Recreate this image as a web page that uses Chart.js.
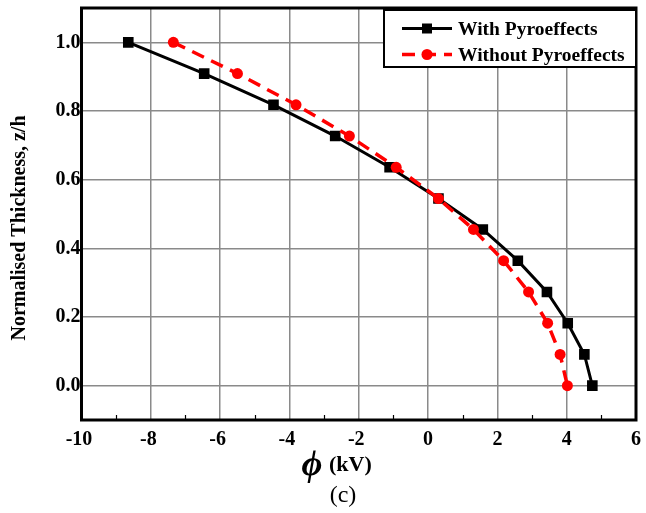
<!DOCTYPE html>
<html>
<head>
<meta charset="utf-8">
<script src="https://cdn.jsdelivr.net/npm/chart.js@4/dist/chart.umd.min.js"></script>
<style>
  html, body { margin: 0; padding: 0; background: #ffffff; }
  #wrap { width: 646px; height: 513px; position: relative; }
</style>
</head>
<body>
<div id="wrap"><canvas id="c" width="646" height="513"></canvas></div>
<script>
// ---- data ----
const zLevels = [1.0, 0.909, 0.818, 0.727, 0.636, 0.545, 0.455, 0.364, 0.273, 0.182, 0.091, 0.0];
const phiWith = [-8.65, -6.46, -4.46, -2.68, -1.11, 0.30, 1.58, 2.59, 3.43, 4.03, 4.51, 4.74];
const phiWithout = [-7.35, -5.50, -3.81, -2.27, -0.92, 0.30, 1.31, 2.18, 2.90, 3.45, 3.81, 4.02];
const seriesNames = ['With Pyroeffects', 'Without Pyroeffects'];
const xTickValues = [-10, -8, -6, -4, -2, 0, 2, 4, 6];
const xMinorTicks = [-9, -7, -5, -3, -1, 1, 3, 5];
const yTickValues = [0.0, 0.2, 0.4, 0.6, 0.8, 1.0];
const yAxisTitle = 'Normalised Thickness, z/h';
const xAxisSymbol = '\u03D5';
const xAxisUnit = '(kV)';
const caption = '(c)';

const SERIF = '"Liberation Serif", "Times New Roman", "DejaVu Serif", serif';

const toPoints = (xs, ys) => xs.map((x, i) => ({ x: x, y: ys[i] }));

const decorPlugin = {
  id: 'decor',
  beforeDatasetsDraw(chart) {
    const ctx = chart.ctx;
    const xs = chart.scales.x;
    const a = chart.chartArea;
    ctx.save();
    ctx.strokeStyle = '#000';
    ctx.lineWidth = 1.2;
    xMinorTicks.forEach(v => {
      const px = Math.round(xs.getPixelForValue(v)) + 0.5;
      ctx.beginPath();
      ctx.moveTo(px, a.bottom);
      ctx.lineTo(px, a.bottom - 5);
      ctx.stroke();
    });
    ctx.restore();
  },
  afterDraw(chart) {
    const ctx = chart.ctx;
    const a = chart.chartArea;
    ctx.save();
    // frame
    ctx.strokeStyle = '#000';
    ctx.lineWidth = 3;
    ctx.strokeRect(a.left, a.top, a.right - a.left, a.bottom - a.top);

    // legend box
    const ds = chart.data.datasets;
    const bx = 384, by = 10, bw = a.right - 384, bh = 57;
    ctx.fillStyle = '#fff';
    ctx.fillRect(bx, by, bw, bh);
    ctx.lineWidth = 2;
    ctx.strokeStyle = '#000';
    ctx.strokeRect(bx, by, bw, bh);
    const rows = [28.5, 54.5];
    ds.forEach((d, i) => {
      const y = rows[i];
      ctx.save();
      ctx.strokeStyle = d.borderColor;
      ctx.lineWidth = d.borderWidth;
      ctx.setLineDash(d.borderDash || []);
      ctx.beginPath();
      ctx.moveTo(402, y);
      ctx.lineTo(452, y);
      ctx.stroke();
      ctx.setLineDash([]);
      ctx.fillStyle = d.pointBackgroundColor;
      if (d.pointStyle === 'rect') {
        ctx.fillRect(427 - 5, y - 5, 10, 10);
      } else {
        ctx.beginPath();
        ctx.arc(427, y, 5.5, 0, Math.PI * 2);
        ctx.fill();
      }
      ctx.restore();
      ctx.fillStyle = '#000';
      ctx.font = 'bold 19.5px ' + SERIF;
      ctx.textAlign = 'left';
      ctx.textBaseline = 'middle';
      ctx.fillText(seriesNames[i], 458, y + 1);
    });

    // y axis title
    ctx.save();
    ctx.translate(20, 228);
    ctx.rotate(-Math.PI / 2);
    ctx.fillStyle = '#000';
    ctx.font = 'bold 20px ' + SERIF;
    ctx.textAlign = 'center';
    ctx.textBaseline = 'middle';
    ctx.fillText(yAxisTitle, 0, 0);
    ctx.restore();

    // x axis title
    ctx.fillStyle = '#000';
    ctx.textBaseline = 'middle';
    ctx.textAlign = 'center';
    ctx.font = 'bold italic 36px ' + SERIF;
    ctx.fillText(xAxisSymbol, 312, 466);
    ctx.textAlign = 'left';
    ctx.font = 'bold 22px ' + SERIF;
    ctx.fillText(xAxisUnit, 329, 465);

    // caption
    ctx.textAlign = 'center';
    ctx.font = '24px ' + SERIF;
    ctx.fillText(caption, 343, 496);
    ctx.restore();
  }
};

new Chart(document.getElementById('c'), {
  type: 'scatter',
  data: {
    datasets: [
      {
        label: seriesNames[0],
        data: toPoints(phiWith, zLevels),
        showLine: true,
        borderColor: '#000000',
        backgroundColor: '#000000',
        pointBackgroundColor: '#000000',
        pointBorderColor: '#000000',
        borderWidth: 3,
        pointStyle: 'rect',
        pointRadius: 7.5,
        pointBorderWidth: 0,
        order: 2
      },
      {
        label: seriesNames[1],
        data: toPoints(phiWithout, zLevels),
        showLine: true,
        borderColor: '#ff0000',
        backgroundColor: '#ff0000',
        pointBackgroundColor: '#ff0000',
        pointBorderColor: '#ff0000',
        borderWidth: 3.5,
        borderDash: [13, 8],
        pointStyle: 'circle',
        pointRadius: 5.5,
        pointBorderWidth: 0,
        order: 1
      }
    ]
  },
  options: {
    responsive: false,
    animation: false,
    events: [],
    layout: { padding: { top: 8, right: 10, left: 0, bottom: 0 } },
    plugins: {
      legend: { display: false },
      tooltip: { enabled: false },
      title: { display: false }
    },
    scales: {
      x: {
        type: 'linear',
        min: -10,
        max: 6,
        afterBuildTicks(s) { s.ticks = xTickValues.map(v => ({ value: v })); },
        afterFit(s) { s.height = 93; s.paddingLeft = 0; s.paddingRight = 0; },
        grid: {
          color: '#8a8a8a',
          lineWidth: 1.5,
          drawTicks: false
        },
        border: { display: false },
        ticks: {
          padding: 8,
          color: '#000',
          font: { family: SERIF, size: 20, weight: 'bold' },
          maxRotation: 0,
          autoSkip: false,
          callback: v => (v < 0 ? String(v) + ' ' : String(v))
        }
      },
      y: {
        type: 'linear',
        min: -0.1,
        max: 1.1,
        afterBuildTicks(s) { s.ticks = yTickValues.map(v => ({ value: v })); },
        afterFit(s) { s.width = 81.5; s.paddingTop = 0; s.paddingBottom = 0; },
        grid: {
          color: '#8a8a8a',
          lineWidth: 1.5,
          drawTicks: false
        },
        border: { display: false },
        ticks: {
          padding: 1,
          color: '#000',
          font: { family: SERIF, size: 20, weight: 'bold' },
          autoSkip: false,
          callback: v => Number(v).toFixed(1)
        }
      }
    }
  },
  plugins: [decorPlugin]
});
</script>
</body>
</html>
